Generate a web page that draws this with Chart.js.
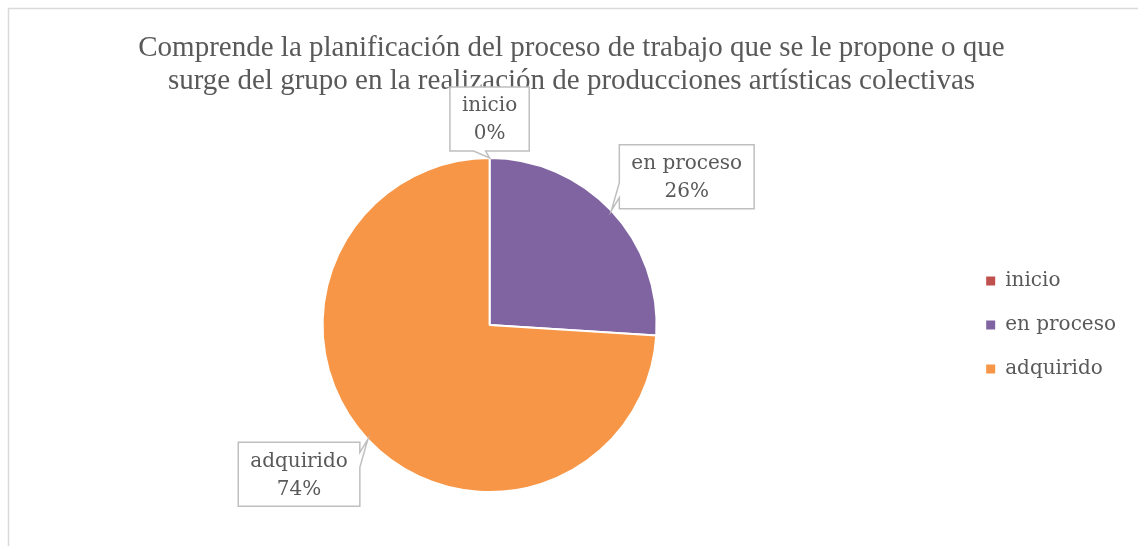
<!DOCTYPE html>
<html>
<head>
<meta charset="utf-8">
<script src="https://cdn.jsdelivr.net/npm/chart.js@4/dist/chart.umd.min.js"></script>
<style>
  html, body { margin: 0; padding: 0; background: #fff; }
  canvas { display: block; }
</style>
</head>
<body>
<canvas id="chartCanvas" width="1138" height="546"></canvas>
<script>
const categories = ["inicio", "en proceso", "adquirido"];
const values = [0, 26, 74];
const sliceColors = ["#C0504D", "#8064A2", "#F79646"];
const titleLines = [
  "Comprende la planificación del proceso de trabajo que se le propone o que",
  "surge del grupo en la realización de producciones artísticas colectivas",
];

const textColor = "#595959";
const labelFont = "20px 'DejaVu Serif'";

// light frame round the chart (top and left edges show in the picture)
const framePlugin = {
  id: "frame",
  beforeDraw(chart) {
    const ctx = chart.ctx;
    ctx.save();
    ctx.fillStyle = "#fff";
    ctx.fillRect(0, 0, chart.width, chart.height);
    ctx.strokeStyle = "#D9D9D9";
    ctx.lineWidth = 1.5;
    ctx.beginPath();
    ctx.moveTo(8.5, chart.height);
    ctx.lineTo(8.5, 8.5);
    ctx.lineTo(chart.width, 8.5);
    ctx.stroke();
    ctx.restore();
  },
};

// boxed data labels with a small pointer to the slice
const calloutPlugin = {
  id: "callouts",
  afterDatasetsDraw(chart) {
    const ctx = chart.ctx;
    const meta = chart.getDatasetMeta(0);
    const total = values.reduce((a, b) => a + b, 0);
    ctx.save();
    ctx.font = labelFont;
    meta.data.forEach((arc, i) => {
      const p = arc.getProps(["x", "y", "startAngle", "endAngle", "outerRadius"], true);
      const mid = (p.startAngle + p.endAngle) / 2;
      const dx = Math.cos(mid);
      const dy = Math.sin(mid);
      const ax = p.x + dx * p.outerRadius;
      const ay = p.y + dy * p.outerRadius;
      const pct = Math.round((values[i] / total) * 100) + "%";
      const w = Math.max(ctx.measureText(categories[i]).width, ctx.measureText(pct).width) + 24;
      const h = 64;
      let left, top;
      if (Math.abs(dx) < 0.2) {
        left = ax - w / 2;
        top = dy < 0 ? ay - 7 - h : ay + 7;
      } else {
        left = dx > 0 ? ax + 8 : ax - 8 - w;
        top = dy < 0 ? ay - 2 - h : ay + 3;
      }
      const right = left + w;
      const bottom = top + h;
      const tip = [ax, ay];
      let pts;
      if (Math.abs(dx) < 0.2) {
        if (dy < 0) {
          pts = [[left, top], [right, top], [right, bottom], [ax - 4, bottom], tip, [ax - 16, bottom], [left, bottom]];
        } else {
          pts = [[left, top], [ax - 16, top], tip, [ax - 4, top], [right, top], [right, bottom], [left, bottom]];
        }
      } else if (dx > 0) {
        const a = dy < 0 ? bottom - 11 : top + 25;
        const b = dy < 0 ? bottom - 26 : top + 10;
        pts = [[left, top], [right, top], [right, bottom], [left, bottom], [left, a], tip, [left, b]];
      } else {
        const a = dy < 0 ? bottom - 26 : top + 10;
        const b = dy < 0 ? bottom - 11 : top + 25;
        pts = [[left, top], [right, top], [right, a], tip, [right, b], [right, bottom], [left, bottom]];
      }
      ctx.beginPath();
      pts.forEach((pt, k) => (k === 0 ? ctx.moveTo(pt[0], pt[1]) : ctx.lineTo(pt[0], pt[1])));
      ctx.closePath();
      ctx.fillStyle = "#fff";
      ctx.fill();
      ctx.strokeStyle = "#BFBFBF";
      ctx.lineWidth = 1.5;
      ctx.stroke();

      ctx.fillStyle = textColor;
      ctx.textAlign = "center";
      ctx.textBaseline = "middle";
      const cx = (left + right) / 2;
      ctx.fillText(categories[i], cx, top + 19);
      ctx.fillText(pct, cx, top + 47);
    });
    ctx.restore();
  },
};

const ctx = document.getElementById("chartCanvas").getContext("2d");

const chart = new Chart(ctx, {
  type: "pie",
  data: {
    labels: categories,
    datasets: [
      {
        data: values,
        backgroundColor: sliceColors,
        borderColor: "#fff",
        borderWidth: 2,
      },
    ],
  },
  options: {
    responsive: false,
    animation: false,
    layout: {
      padding: { top: 0, left: 17, right: 12, bottom: 53 },
    },
    plugins: {
      title: {
        display: true,
        text: titleLines,
        color: textColor,
        font: { family: "'Liberation Serif'", size: 29, weight: "normal", lineHeight: "33px" },
        padding: { top: 31.5, bottom: 59.5 },
      },
      legend: {
        position: "right",
        fullSize: false,
        labels: {
          color: textColor,
          font: { family: "'DejaVu Serif'", size: 20 },
          boxWidth: 9,
          boxHeight: 9,
          padding: 24,
          generateLabels: () =>
            categories.map((c, i) => ({
              text: c,
              fillStyle: sliceColors[i],
              strokeStyle: sliceColors[i],
              lineWidth: 0,
              fontColor: textColor,
              hidden: false,
              index: i,
            })),
        },
      },
      tooltip: { enabled: false },
    },
  },
  plugins: [framePlugin, calloutPlugin],
});
</script>
</body>
</html>
